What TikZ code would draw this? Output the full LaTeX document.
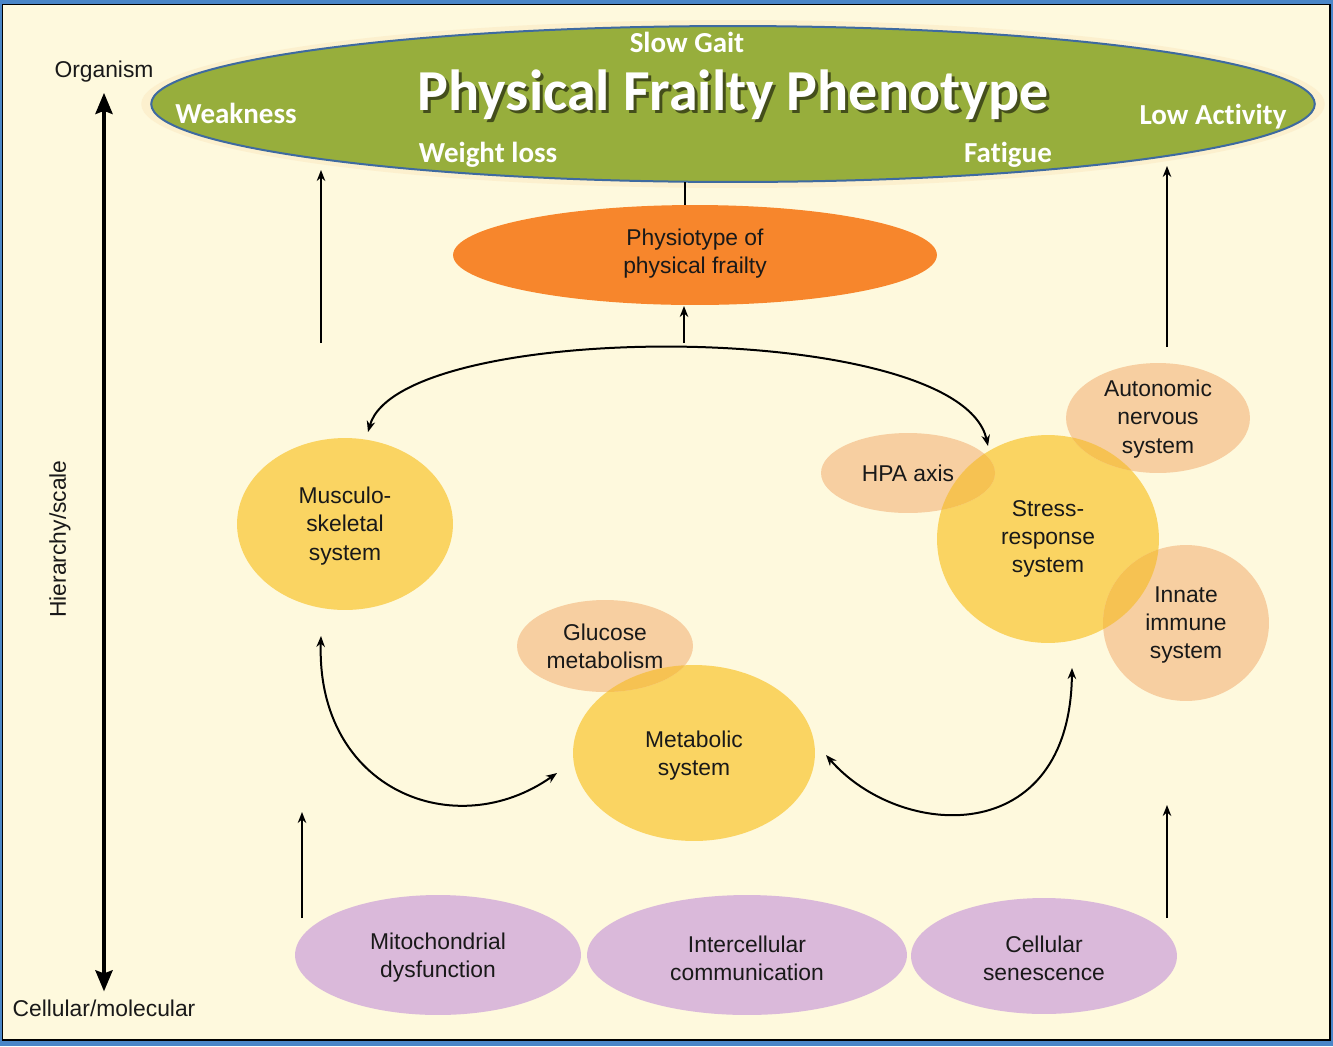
\documentclass[tikz,border=0pt]{standalone}
\usepackage{fontspec}
\setmainfont{Liberation Sans}
\newfontfamily\titlefont[Ligatures=NoCommon]{Carlito}
\usetikzlibrary{shapes.geometric,arrows.meta}
\definecolor{bgcream}{RGB}{254,249,221}
\definecolor{frameblue}{RGB}{74,134,200}
\definecolor{pfgreen}{RGB}{151,174,60}
\definecolor{pfblue}{RGB}{62,106,160}
\definecolor{glowc}{RGB}{252,240,206}
\definecolor{orangec}{RGB}{247,134,44}
\definecolor{yellowc}{RGB}{250,212,98}
\definecolor{peachc}{RGB}{247,207,161}
\definecolor{overc}{RGB}{246,194,82}
\definecolor{purplec}{RGB}{218,185,218}
\tikzset{
  ell/.style 2 args={ellipse, inner sep=0pt, minimum width=#1*0.04cm, minimum height=#2*0.04cm},
  txt/.style={font=\fontsize{13}{16}\selectfont, align=center, text=black!90},
  ttl/.style={font=\titlefont\bfseries\fontsize{16.5}{18}\selectfont, text=white},
  arr/.style={line width=0.04cm, -{Stealth[length=0.22cm,width=0.17cm]}},
  darr/.style={line width=0.04cm, {Stealth[length=0.22cm,width=0.17cm]}-{Stealth[length=0.22cm,width=0.17cm]}},
  axis/.style={line width=0.08cm, {Stealth[length=0.42cm,width=0.34cm,inset=0.06cm]}-{Stealth[length=0.42cm,width=0.34cm,inset=0.06cm]}}
}
\begin{document}
\begin{tikzpicture}[x=0.02cm,y=-0.02cm]
\useasboundingbox (0,0) rectangle (1333,1046);
\fill[frameblue] (0,0) rectangle (1333,1046);
\filldraw[fill=bgcream, draw=black, line width=0.03cm] (2.5,4.5) rectangle (1330,1040);

% glow and top phenotype ellipse
\node[ell={592}{84}, fill=glowc] (glow) at (733,104) {};
\node[ell={582}{78}, fill=pfgreen, draw=pfblue, line width=0.04cm] (pheno) at (733,104) {};

% orange physiotype
\node[ell={242}{50}, fill=orangec] (physio) at (695,255) {};

% yellow systems
\node[ell={108}{86}, fill=yellowc] (musc) at (345,524) {};
\node[ell={121}{88}, fill=yellowc] (metab) at (694,753) {};
\node[ell={111}{104}, fill=yellowc] (stress) at (1048,539) {};

% peach subsystems
\node[ell={88}{46}, fill=peachc] (gluc) at (605,646) {};
\node[ell={87}{40}, fill=peachc] (hpa) at (908,473) {};
\node[ell={92}{55}, fill=peachc] (auto) at (1158,418) {};
\node[ell={83}{78}, fill=peachc] (innate) at (1186,623) {};

% overlaps
\begin{scope}
\clip (stress.center) ellipse [x radius=111, y radius=104];
\fill[overc] (hpa.center) ellipse [x radius=87, y radius=40];
\fill[overc] (auto.center) ellipse [x radius=92, y radius=55];
\fill[overc] (innate.center) ellipse [x radius=83, y radius=78];
\end{scope}
\begin{scope}
\clip (metab.center) ellipse [x radius=121, y radius=88];
\fill[overc] (gluc.center) ellipse [x radius=88, y radius=46];
\end{scope}

% purple cellular
\node[ell={143}{60}, fill=purplec] (mito) at (438,955) {};
\node[ell={160}{60}, fill=purplec] (inter) at (747,955) {};
\node[ell={133}{58}, fill=purplec] (senes) at (1044,956) {};

% texts of the top ellipse
\node[ttl] (slow) at (687,42) {Slow Gait};
\node[ttl] (weak) at (236,113) {Weakness};
\node[ttl] (lowact) at (1213,117) {Low Activity};
\node[ttl] (wloss) at (488,155) {Weight loss};
\node[ttl] (fatig) at (1008,155) {Fatigue};
\node[ttl, text=black!55!pfgreen, font=\titlefont\bfseries\fontsize{33}{36}\selectfont] (titleshadow) at (736,98) {Physical Frailty Phenotype};
\node[ttl, font=\titlefont\bfseries\fontsize{33}{36}\selectfont] (title) at (733,95) {Physical Frailty Phenotype};

% texts
\node[txt] (physiot) at (695,254) {Physiotype of\\physical frailty};
\node[txt] (musct) at (345,526) {Musculo-\\skeletal\\system};
\node[txt] (gluct) at (605,646) {Glucose\\metabolism};
\node[txt] (metabt) at (694,756) {Metabolic\\system};
\node[txt] (hpat) at (908,473) {HPA axis};
\node[txt] (stresst) at (1048,539) {Stress-\\response\\system};
\node[txt] (autot) at (1158,419) {Autonomic\\nervous\\system};
\node[txt] (innatet) at (1186,625) {Innate\\immune\\system};
\node[txt] (mitot) at (438,958) {Mitochondrial\\dysfunction};
\node[txt] (intert) at (747,958) {Intercellular\\communication};
\node[txt] (senest) at (1044,958) {Cellular\\senescence};

% hierarchy axis
\node[txt] (organism) at (104,72) {Organism};
\node[txt] (cellmol) at (104,1008) {Cellular/molecular};
\node[txt, rotate=90] (hier) at (60,539) {Hierarchy/scale};
\path (cellmol.north) ++(0,-2) coordinate (axb) (organism.south) ++(0,4) coordinate (axt);
\draw[axis] (axt) -- (axb);

% connectors
\coordinate (pb) at (685,182);
\coordinate (pt) at (685,205);
\draw[line width=0.04cm] (pb) -- (pt);
\coordinate (ua) at (684,343);
\coordinate (ub) at (684,306);
\draw[arr] (ua) -- (ub);

\coordinate (l1) at (321,343);
\coordinate (l2) at (321,170);
\draw[arr] (l1) -- (l2);
\coordinate (r1) at (1167,347);
\coordinate (r2) at (1167,166);
\draw[arr] (r1) -- (r2);
\coordinate (l3) at (302,918);
\coordinate (l4) at (302,812);
\draw[arr] (l3) -- (l4);
\coordinate (r3) at (1167,918);
\coordinate (r4) at (1167,805);
\draw[arr] (r3) -- (r4);

\coordinate (a1) at (368,432);
\coordinate (a2) at (988,446);
\draw[darr] (a1) .. controls (400,318) and (960,318) .. (a2);

\coordinate (b1) at (321,636);
\coordinate (b2) at (557,773);
\draw[darr] (b1) .. controls (316,790) and (455,845) .. (b2);

\coordinate (c1) at (826,755);
\coordinate (c2) at (1072,668);
\draw[darr] (c1) .. controls (900,840) and (1070,850) .. (c2);
\end{tikzpicture}
\end{document}
